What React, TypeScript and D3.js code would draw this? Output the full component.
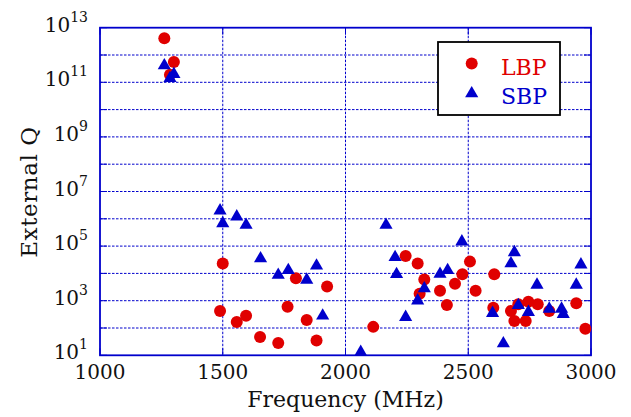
import React from "react";
import * as d3 from "d3";

// LBP points (MHz, external Q)
const lbpFreq = [1262, 1301, 1285, 1500, 1798, 1925, 1489, 1557, 1595, 1764, 1842, 1652, 1726, 1882,
  2245, 2294, 2507, 2476, 2446, 2321, 2302, 2385, 2413, 2113, 2606, 2530, 2940, 2602, 2674, 2704,
  2745, 2783, 2830, 2688, 2734, 2977];
const lbpQ = [4.1e12, 5.5e11, 1.9e11, 2.3e4, 6.6e3, 3.3e3, 4.2e2, 1.66e2, 2.8e2, 6.0e2, 1.96e2, 47, 28, 35,
  4.3e4, 2.3e4, 2.7e4, 9.3e3, 4.2e3, 6.0e3, 1.8e3, 2.3e3, 6.9e2, 1.1e2, 9.3e3, 2.3e3, 8.0e2, 5.5e2, 4.2e2, 7.4e2,
  9.1e2, 7.4e2, 4.2e2, 1.8e2, 1.8e2, 94];

// SBP points
const sbpFreq = [1262, 1301, 1285, 1489, 1500, 1557, 1595, 1654, 1726, 1767, 1842, 1882, 1907,
  2165, 2474, 2202, 2208, 2385, 2416, 2321, 2294, 2245, 2062, 2688, 2674, 2959, 2780, 2940,
  2599, 2704, 2745, 2830, 2880, 2887, 2643];
const sbpQ = [4.1e11, 2.0e11, 1.4e11, 2.0e6, 6.8e5, 1.2e6, 5.9e5, 3.5e4, 8.7e3, 1.3e4, 5.8e3, 1.9e4, 2.8e2,
  5.9e5, 1.45e5, 3.9e4, 9.3e3, 9.5e3, 1.3e4, 2.8e3, 1.0e3, 2.5e2, 13, 5.9e4, 2.3e4, 2.1e4, 3.8e3, 3.8e3,
  3.5e2, 6.8e2, 3.8e2, 5.0e2, 5.0e2, 3.2e2, 27];

const xTicks = [1000, 1500, 2000, 2500, 3000];
const yGrid = [1, 2, 3, 4, 5, 6, 7, 8, 9, 10, 11, 12, 13];
const yLabelExp = [1, 3, 5, 7, 9, 11, 13];

const W = 631, H = 417;
const L = 100, R = 591, T = 27.7, B = 355.3;
const BLUE = "#0000cc";
const RED = "#e00000";
const FONT = "DejaVu Serif";

export default function App() {
  const x = d3.scaleLinear().domain([1000, 3000]).range([L, R]);
  const y = d3.scaleLog().domain([10, 1e13]).range([B, T]);
  const tri = d3.symbol().type(d3.symbolTriangle).size(75)();

  return (
    <svg width={W} height={H} style={{ position: "absolute", left: 0, top: 0, background: "#fff" }}
      fontFamily={FONT}>
      {/* grid */}
      {xTicks.slice(1, -1).map((t) => (
        <line key={"gx" + t} x1={x(t)} x2={x(t)} y1={T} y2={B} stroke={BLUE} strokeWidth={1}
          strokeDasharray="2.5,1.5" />
      ))}
      {yGrid.slice(1, -1).map((e) => (
        <line key={"gy" + e} x1={L} x2={R} y1={y(Math.pow(10, e))} y2={y(Math.pow(10, e))}
          stroke={BLUE} strokeWidth={1} strokeDasharray="2.5,1.5" />
      ))}
      {/* inward ticks */}
      {xTicks.map((t) => (
        <g key={"tx" + t}>
          <line x1={x(t)} x2={x(t)} y1={B} y2={B - 7} stroke={BLUE} strokeWidth={1} />
          <line x1={x(t)} x2={x(t)} y1={T} y2={T + 7} stroke={BLUE} strokeWidth={1} />
        </g>
      ))}
      {yGrid.map((e) => (
        <g key={"ty" + e}>
          <line x1={L} x2={L + 7} y1={y(Math.pow(10, e))} y2={y(Math.pow(10, e))} stroke={BLUE} strokeWidth={1} />
          <line x1={R} x2={R - 7} y1={y(Math.pow(10, e))} y2={y(Math.pow(10, e))} stroke={BLUE} strokeWidth={1} />
        </g>
      ))}
      <rect x={L} y={T} width={R - L} height={B - T} fill="none" stroke={BLUE} strokeWidth={1.8} />

      {/* points */}
      {lbpFreq.map((f, i) => (
        <circle key={"c" + i} cx={x(f)} cy={y(lbpQ[i])} r={6} fill={RED} />
      ))}
      {sbpFreq.map((f, i) => (
        <path key={"t" + i} d={tri} transform={`translate(${x(f)},${y(sbpQ[i])})`} fill={BLUE} />
      ))}

      {/* x tick labels */}
      {xTicks.map((t) => (
        <text key={"lx" + t} x={x(t)} y={379} textAnchor="middle" fontSize={20} fill="#111">{t}</text>
      ))}
      {/* y tick labels */}
      {yLabelExp.map((e) => (
        <text key={"ly" + e} x={88} y={y(Math.pow(10, e)) + 4} textAnchor="end" fontSize={20} fill="#111">
          10<tspan fontSize={14} dy={-10}>{e}</tspan>
        </text>
      ))}

      <text x={(L + R) / 2} y={407} textAnchor="middle" fontSize={22} fill="#111">Frequency (MHz)</text>
      <text transform={`translate(37,192) rotate(-90)`} textAnchor="middle" fontSize={23} fill="#111"
        letterSpacing={0.6}>
        External Q
      </text>

      {/* legend */}
      <rect x={438} y={42} width={122} height={73} fill="#fff" stroke="#000" strokeWidth={1.8} />
      <circle cx={471.7} cy={63.5} r={6} fill={RED} />
      <path d={tri} transform="translate(471.7,93.5)" fill={BLUE} />
      <text x={501} y={75} fontSize={22} fill={RED}>LBP</text>
      <text x={501} y={104} fontSize={22} fill={BLUE}>SBP</text>
    </svg>
  );
}
